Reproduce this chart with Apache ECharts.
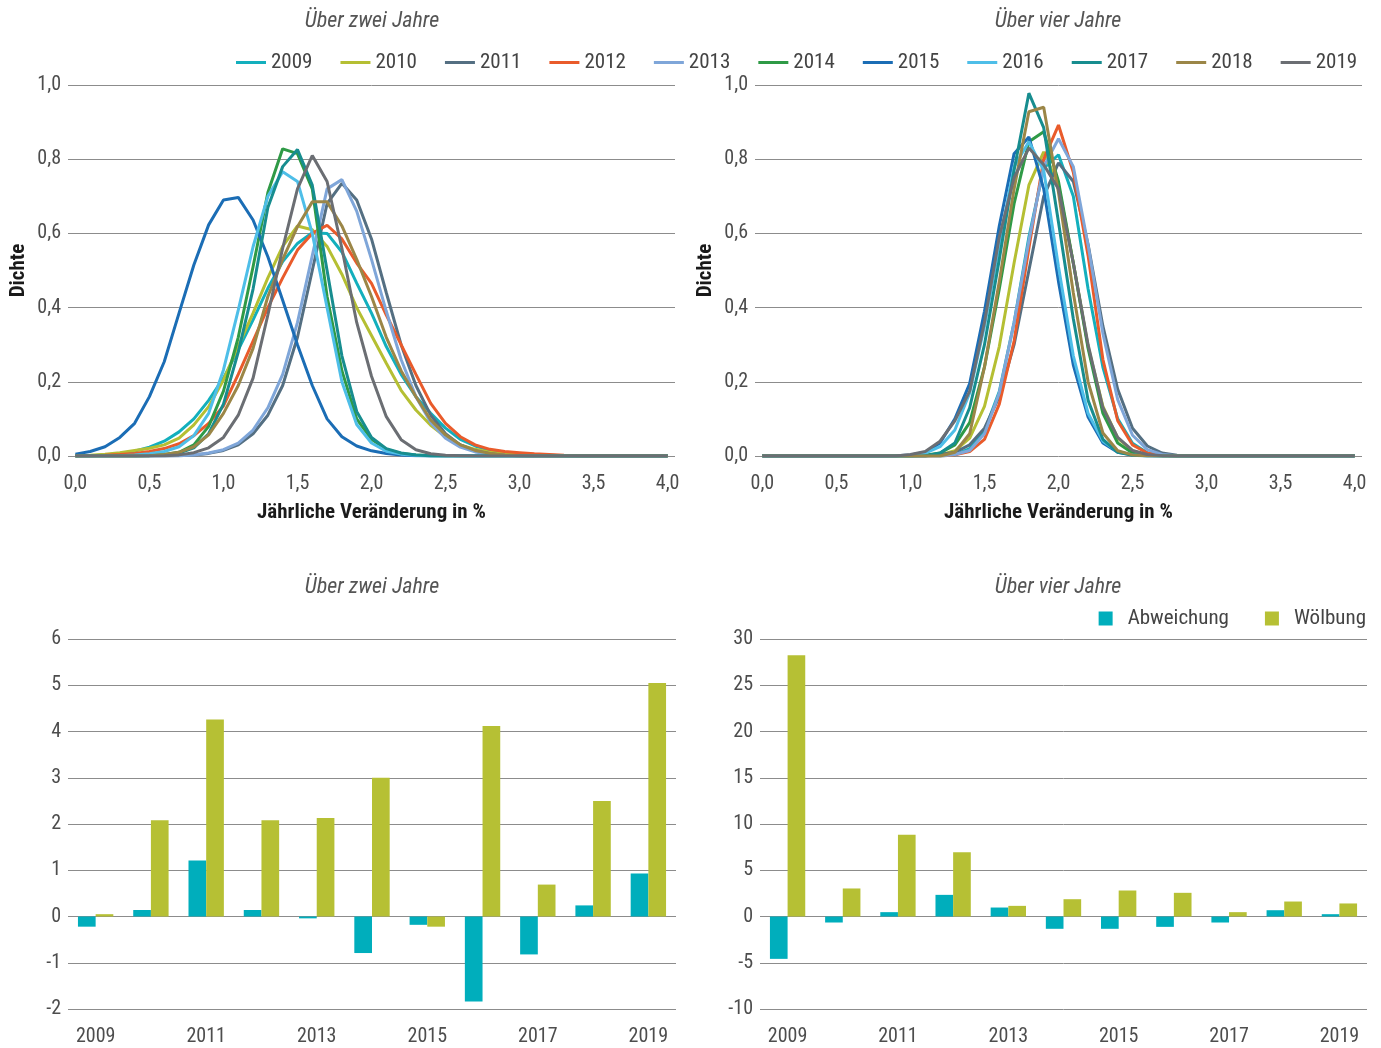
<!DOCTYPE html>
<html><head><meta charset="utf-8">
<script src="https://cdn.jsdelivr.net/npm/echarts@6/dist/echarts.min.js"></script>
<style>html,body{margin:0;padding:0;background:#fff}#c{width:1381px;height:1048px}</style>
</head><body><div id="c"></div>
<script>
var FONT = "'Roboto Condensed','Liberation Sans Narrow','DejaVu Sans Condensed',Roboto,sans-serif";
var xCats = ['0,0','0,1','0,2','0,3','0,4','0,5','0,6','0,7','0,8','0,9','1,0','1,1','1,2','1,3','1,4','1,5','1,6','1,7','1,8','1,9','2,0','2,1','2,2','2,3','2,4','2,5','2,6','2,7','2,8','2,9','3,0','3,1','3,2','3,3','3,4','3,5','3,6','3,7','3,8','3,9','4,0'];
var yearNames = ['2009','2010','2011','2012','2013','2014','2015','2016','2017','2018','2019'];
var yearColors = ['#13AFBD','#B5BF33','#546F82','#E95B2B','#7FA6D9','#2F9A46','#1B6DB5','#4EBEE8','#178D8F','#9B8647','#6B6E73'];

// Top-left: über zwei Jahre (density per x step 0.1)
var tl2009 = [0,0.001,0.003,0.007,0.013,0.024,0.04,0.065,0.10,0.15, 0.21,0.286,0.367,0.452,0.524,0.573,0.602,0.60,0.55,0.466, 0.385,0.295,0.22,0.16,0.115,0.075,0.045,0.027,0.015,0.009, 0.005,0.003,0.002,0.001,0,0,0,0,0,0, 0];
var tl2010 = [0.001,0.002,0.005,0.009,0.015,0.021,0.03,0.048,0.084,0.133, 0.205,0.296,0.385,0.48,0.565,0.62,0.61,0.565,0.49,0.40, 0.325,0.25,0.177,0.124,0.083,0.052,0.03,0.018,0.01,0.006, 0.003,0.002,0.001,0,0,0,0,0,0,0, 0];
var tl2011 = [0,0,0,0,0,0,0,0.001,0.003,0.007, 0.015,0.03,0.06,0.11,0.19,0.32,0.50,0.68,0.735,0.69, 0.585,0.44,0.30,0.19,0.11,0.06,0.03,0.014,0.006,0.002, 0.001,0,0,0,0,0,0,0,0,0, 0];
var tl2012 = [0,0.001,0.002,0.004,0.007,0.012,0.02,0.033,0.055,0.088, 0.135,0.22,0.31,0.40,0.48,0.555,0.60,0.622,0.585,0.52, 0.465,0.38,0.30,0.22,0.142,0.088,0.052,0.03,0.018,0.012, 0.009,0.006,0.004,0.002,0.001,0,0,0,0,0, 0];
var tl2013 = [0,0,0,0,0,0,0,0.001,0.003,0.008, 0.017,0.035,0.07,0.13,0.22,0.36,0.54,0.72,0.745,0.66, 0.53,0.39,0.26,0.16,0.09,0.048,0.024,0.011,0.005,0.002, 0.001,0,0,0,0,0,0,0,0,0, 0];
var tl2014 = [0,0,0,0,0,0.001,0.004,0.01,0.03,0.08, 0.175,0.32,0.51,0.71,0.828,0.815,0.72,0.43,0.23,0.10, 0.045,0.018,0.007,0.003,0.001,0,0,0,0,0, 0,0,0,0,0,0,0,0,0,0, 0];
var tl2015 = [0.005,0.012,0.025,0.05,0.088,0.16,0.254,0.385,0.515,0.623, 0.69,0.697,0.636,0.537,0.42,0.30,0.19,0.10,0.052,0.027, 0.014,0.007,0.003,0.001,0,0,0,0,0,0, 0,0,0,0,0,0,0,0,0,0, 0];
var tl2016 = [0,0,0,0.001,0.003,0.006,0.012,0.025,0.055,0.115, 0.232,0.393,0.564,0.70,0.766,0.74,0.60,0.40,0.20,0.085, 0.035,0.013,0.005,0.002,0,0,0,0,0,0, 0,0,0,0,0,0,0,0,0,0, 0];
var tl2017 = [0,0,0,0,0,0.001,0.003,0.008,0.022,0.06, 0.14,0.28,0.45,0.67,0.78,0.826,0.73,0.50,0.27,0.12, 0.05,0.02,0.008,0.003,0.001,0,0,0,0,0, 0,0,0,0,0,0,0,0,0,0, 0];
var tl2018 = [0,0,0,0,0,0.001,0.004,0.01,0.025,0.057, 0.115,0.19,0.29,0.43,0.53,0.618,0.685,0.685,0.62,0.53, 0.43,0.32,0.23,0.16,0.097,0.057,0.03,0.015,0.007,0.003, 0.001,0,0,0,0,0,0,0,0,0, 0];
var tl2019 = [0,0,0,0,0,0,0.001,0.003,0.009,0.022, 0.05,0.11,0.21,0.38,0.56,0.72,0.81,0.74,0.56,0.36, 0.215,0.106,0.044,0.017,0.006,0.002,0.001,0,0,0, 0,0,0,0,0,0,0,0,0,0, 0];

// Top-right: über vier Jahre
var tr2009 = [0,0,0,0,0,0,0,0,0,0, 0,0,0,0.003,0.02,0.067,0.174,0.36,0.59,0.776, 0.812,0.70,0.45,0.239,0.10,0.034,0.009,0.002,0,0, 0,0,0,0,0,0,0,0,0,0, 0];
var tr2010 = [0,0,0,0,0,0,0,0,0,0, 0,0,0.003,0.014,0.048,0.134,0.295,0.52,0.73,0.82, 0.73,0.52,0.295,0.134,0.048,0.014,0.003,0.001,0,0, 0,0,0,0,0,0,0,0,0,0, 0];
var tr2011 = [0,0,0,0,0,0,0,0,0,0, 0,0,0.004,0.01,0.03,0.075,0.16,0.30,0.50,0.70, 0.79,0.74,0.57,0.35,0.18,0.075,0.027,0.008,0.002,0, 0,0,0,0,0,0,0,0,0,0, 0];
var tr2012 = [0,0,0,0,0,0,0,0,0,0, 0,0,0,0.003,0.012,0.045,0.14,0.31,0.56,0.80, 0.892,0.765,0.54,0.26,0.095,0.03,0.008,0.002,0,0, 0,0,0,0,0,0,0,0,0,0, 0];
var tr2013 = [0,0,0,0,0,0,0,0,0,0, 0,0,0,0.004,0.015,0.06,0.17,0.36,0.58,0.78, 0.855,0.78,0.568,0.33,0.152,0.056,0.017,0.004,0.001,0, 0,0,0,0,0,0,0,0,0,0, 0];
var tr2014 = [0,0,0,0,0,0,0,0,0,0, 0,0.002,0.008,0.03,0.09,0.24,0.45,0.68,0.847,0.874, 0.74,0.52,0.29,0.115,0.035,0.008,0.002,0,0,0, 0,0,0,0,0,0,0,0,0,0, 0];
var tr2015 = [0,0,0,0,0,0,0,0,0,0.001, 0.003,0.01,0.035,0.10,0.195,0.39,0.62,0.815,0.86,0.72, 0.47,0.245,0.105,0.035,0.01,0.003,0.001,0,0,0, 0,0,0,0,0,0,0,0,0,0, 0];
var tr2016 = [0,0,0,0,0,0,0,0,0,0, 0.002,0.008,0.025,0.07,0.17,0.35,0.57,0.78,0.847,0.77, 0.51,0.27,0.115,0.04,0.012,0.003,0,0,0,0, 0,0,0,0,0,0,0,0,0,0, 0];
var tr2017 = [0,0,0,0,0,0,0,0,0,0, 0,0,0.008,0.035,0.13,0.30,0.53,0.77,0.978,0.885, 0.63,0.37,0.15,0.045,0.01,0.002,0,0,0,0, 0,0,0,0,0,0,0,0,0,0, 0];
var tr2018 = [0,0,0,0,0,0,0,0,0,0, 0,0,0,0.01,0.06,0.24,0.47,0.72,0.928,0.94, 0.71,0.44,0.20,0.062,0.014,0.003,0.001,0,0,0, 0,0,0,0,0,0,0,0,0,0, 0];
var tr2019 = [0,0,0,0,0,0,0,0,0,0, 0.004,0.012,0.04,0.095,0.175,0.36,0.59,0.75,0.83,0.785, 0.72,0.52,0.30,0.13,0.05,0.015,0.004,0.001,0,0, 0,0,0,0,0,0,0,0,0,0, 0];

// Bars
var barYears = ['2009','2010','2011','2012','2013','2014','2015','2016','2017','2018','2019'];
var blAbweichung = [-0.22,0.14,1.21,0.14,-0.04,-0.79,-0.18,-1.84,-0.82,0.24,0.93];
var blWoelbung   = [0.05,2.08,4.26,2.08,2.13,3.0,-0.22,4.12,0.69,2.50,5.05];
var brAbweichung = [-4.58,-0.65,0.47,2.34,0.97,-1.33,-1.33,-1.12,-0.65,0.68,0.25];
var brWoelbung   = [28.25,3.03,8.83,6.95,1.15,1.87,2.81,2.56,0.47,1.62,1.41];
var barNames = ['Abweichung','Wölbung'];
var barColors = ['#00AEBC','#B6C034'];

var tlData = [tl2009,tl2010,tl2011,tl2012,tl2013,tl2014,tl2015,tl2016,tl2017,tl2018,tl2019];
var trData = [tr2009,tr2010,tr2011,tr2012,tr2013,tr2014,tr2015,tr2016,tr2017,tr2018,tr2019];

var GRID = '#8c8c8c', LBL = '#4d4d4d';
function comma(v){ return v.toFixed(1).replace('.', ','); }

function catX(gi, data, interval, withName){
  var a = {gridIndex:gi, type:'category', data:data, boundaryGap:true,
    axisLine:{show:false, onZero:false}, axisTick:{show:false},
    axisLabel:{interval:interval, color:LBL, fontSize:20, fontFamily:FONT, margin:18}};
  if (withName){ a.name='Jährliche Veränderung in %'; a.nameLocation='middle'; a.nameGap=46;
    a.nameTextStyle={fontFamily:FONT, fontSize:21, fontWeight:'bold', color:'#1a1a1a'}; }
  return a;
}
function valY(gi, min, max, interval, fmt, withName, nameGap){
  var a = {gridIndex:gi, type:'value', min:min, max:max, interval:interval,
    axisLine:{show:false}, axisTick:{show:false},
    splitLine:{show:true, lineStyle:{color:GRID, width:1}},
    axisLabel:{color:LBL, fontSize:20, fontFamily:FONT, margin:7, formatter:fmt}};
  if (withName){ a.name='Dichte'; a.nameLocation='middle'; a.nameRotate=90; a.nameGap=nameGap;
    a.nameTextStyle={fontFamily:FONT, fontSize:21, fontWeight:'bold', color:'#1a1a1a'}; }
  return a;
}

var series = [];
for (var k=0;k<yearNames.length;k++){
  series.push({name:yearNames[k], type:'line', xAxisIndex:0, yAxisIndex:0, data:tlData[k], symbol:'none',
    lineStyle:{width:3, color:yearColors[k]}, itemStyle:{color:yearColors[k]}});
}
for (var k=0;k<yearNames.length;k++){
  series.push({name:yearNames[k], type:'line', xAxisIndex:1, yAxisIndex:1, data:trData[k], symbol:'none',
    lineStyle:{width:3, color:yearColors[k]}, itemStyle:{color:yearColors[k]}});
}
var blData = [blAbweichung, blWoelbung], brData = [brAbweichung, brWoelbung];
for (var k=0;k<2;k++){
  series.push({name:barNames[k], type:'bar', xAxisIndex:2, yAxisIndex:2, data:blData[k],
    barGap:'0%', barCategoryGap:'36%', itemStyle:{color:barColors[k]}});
}
for (var k=0;k<2;k++){
  series.push({name:barNames[k], type:'bar', xAxisIndex:3, yAxisIndex:3, data:brData[k],
    barGap:'0%', barCategoryGap:'36%', itemStyle:{color:barColors[k]}});
}

function title(txt, x, y){
  return {type:'text', x:x, y:y, style:{text:txt, textAlign:'center', textVerticalAlign:'middle',
    font:'italic 22px ' + FONT, fill:'#555'}};
}

var option = {
  animation:false,
  backgroundColor:'#fff',
  textStyle:{fontFamily:FONT},
  grid:[
    {left:68, top:85, width:607, height:371},
    {left:755, top:85, width:607, height:371},
    {left:68, top:639, width:608, height:370},
    {left:760, top:639, width:607, height:370}
  ],
  xAxis:[ catX(0, xCats, 4, true), catX(1, xCats, 4, true), catX(2, barYears, 1, false), catX(3, barYears, 1, false) ],
  yAxis:[
    valY(0, 0, 1, 0.2, comma, true, 39),
    valY(1, 0, 1, 0.2, comma, true, 39),
    valY(2, -2, 6, 1, null, false),
    valY(3, -10, 30, 5, null, false)
  ],
  legend:[
    {data:yearNames, left:231, top:47, icon:'rect', itemWidth:30, itemHeight:3, itemGap:28,
      textStyle:{fontFamily:FONT, fontSize:21, color:'#444'}},
    {data:barNames, right:10, top:603, icon:'rect', itemWidth:14, itemHeight:14, itemGap:36,
      textStyle:{fontFamily:FONT, fontSize:21, color:'#444', padding:[0,0,0,10]}}
  ],
  graphic:[
    title('Über zwei Jahre', 372, 21),
    title('Über vier Jahre', 1058, 21),
    title('Über zwei Jahre', 372, 587),
    title('Über vier Jahre', 1058, 587)
  ],
  series:series
};
var chart = echarts.init(document.getElementById('c'), null, {renderer:'canvas'});
chart.setOption(option);
</script>
</body></html>
